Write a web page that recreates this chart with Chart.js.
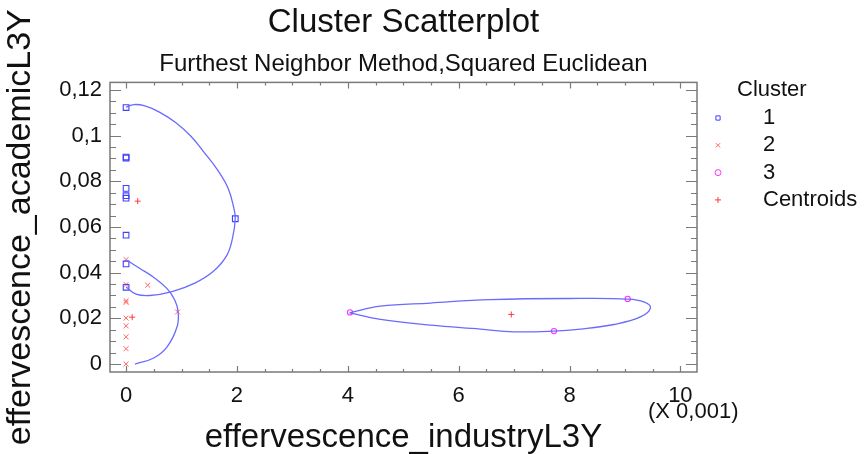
<!DOCTYPE html>
<html>
<head>
<meta charset="utf-8">
<script src="https://cdn.jsdelivr.net/npm/chart.js@4"></script>
<style>
  html, body { margin: 0; padding: 0; background: #fff; }
  #wrap { width: 866px; height: 454px; position: relative; }
</style>
</head>
<body>
<div id="wrap"><canvas id="chart"></canvas></div>
<script>
// 点数据（从图中读取，x 以 0.001 为单位）
const cluster1X = [0, 0, 0, 0, 0, 0, 0, 0, 0, 1.97];
const cluster1Y = [0.1123, 0.0906, 0.0902, 0.0769, 0.0737, 0.0726, 0.0564, 0.0438, 0.0336, 0.0636];
const cluster2X = [0, 0, 0, 0, 0, 0, 0, 0, 0, 0.39, 0.93];
const cluster2Y = [0.0457, 0.0348, 0.0277, 0.0270, 0.0201, 0.0167, 0.0119, 0.0067, 0, 0.0345, 0.0228];
const cluster3X = [4.04, 9.05, 7.72];
const cluster3Y = [0.0226, 0.0285, 0.0144];
const centroidX = [0.21, 0.11, 6.95];
const centroidY = [0.0713, 0.0205, 0.0217];

// 轮廓线（沿图中曲线读取）
const hull1X = [0, 0.14, 0.34, 0.61, 0.90, 1.17, 1.40, 1.64, 1.84, 1.94, 1.97, 1.92, 1.82, 1.58, 1.24, 0.83, 0.43, 0.18, 0];
const hull1Y = [0.1125, 0.1136, 0.1130, 0.1102, 0.1056, 0.0997, 0.0929, 0.0853, 0.0770, 0.0687, 0.0638, 0.0551, 0.0477, 0.0407, 0.0354, 0.0317, 0.0300, 0.0306, 0.0337];
const hull2X = [0.02, 0.25, 0.49, 0.74, 0.88, 0.94, 0.92, 0.74, 0.49, 0.16];
const hull2Y = [0.0454, 0.0418, 0.0381, 0.0330, 0.0279, 0.0228, 0.0163, 0.0075, 0.0025, 0.0];
const hull3X = [4.03, 4.59, 5.49, 6.57, 8.20, 9.04, 9.34, 9.46, 9.28, 8.80, 8.20, 7.71, 6.99, 6.39, 5.49, 4.59, 4.03];
const hull3Y = [0.0224, 0.0253, 0.0267, 0.0282, 0.0287, 0.0284, 0.0272, 0.0246, 0.0206, 0.0173, 0.0153, 0.0144, 0.0141, 0.0153, 0.0170, 0.0195, 0.0224];

// 刻度标签
const xTickLabels = [0, 2, 4, 6, 8, 10];
const yTickLabels = [0, 0.02, 0.04, 0.06, 0.08, 0.1, 0.12];
const legendLabels = ['1', '2', '3', 'Centroids'];

const FONT = "'Liberation Sans', Arial, sans-serif";
const pts = (xs, ys) => xs.map((x, i) => ({ x: x, y: ys[i] }));
const near = (arr, v) => arr.some(a => Math.abs(a - v) < 1e-7);
const fmt = v => String(Number(v.toFixed(3))).replace('.', ',');

const markers = [
    { pointStyle: 'rect', radius: 4, color: '#4040ff' },
    { pointStyle: 'crossRot', radius: 3.5, color: '#ff6464' },
    { pointStyle: 'circle', radius: 2.6, color: '#ff30ff' },
    { pointStyle: 'cross', radius: 3, color: '#ff3a3a' }
];

const lineStyle = {
    type: 'scatter', showLine: true, pointRadius: 0, borderColor: '#6a6aff',
    borderWidth: 1.3, tension: 0.4, fill: false
};

// 边框、内向刻度、图例和单位文字
const decorPlugin = {
    id: 'decor',
    afterDraw(chart) {
        const ctx = chart.ctx;
        const a = chart.chartArea;
        const xs = chart.scales.x, ys = chart.scales.y;
        ctx.save();
        ctx.strokeStyle = '#7a7a7a';
        ctx.lineWidth = 1.5;
        ctx.strokeRect(a.left, a.top, a.right - a.left, a.bottom - a.top);
        ctx.lineWidth = 1.2;
        ctx.beginPath();
        xs.ticks.forEach(t => {
            const px = Math.round(xs.getPixelForValue(t.value)) + 0.5;
            const len = near(xTickLabels, t.value) ? 6 : 3;
            ctx.moveTo(px, a.bottom); ctx.lineTo(px, a.bottom - len);
            ctx.moveTo(px, a.top); ctx.lineTo(px, a.top + len);
        });
        ys.ticks.forEach(t => {
            const py = Math.round(ys.getPixelForValue(t.value)) + 0.5;
            let len = 6;
            if (near(yTickLabels, t.value)) len = 11;
            ctx.moveTo(a.left, py); ctx.lineTo(a.left + len, py);
            ctx.moveTo(a.right, py); ctx.lineTo(a.right - len, py);
        });
        ctx.stroke();

        // 单位
        ctx.fillStyle = '#111';
        ctx.font = '22px ' + FONT;
        ctx.textAlign = 'left';
        ctx.textBaseline = 'middle';
        ctx.fillText('(X 0,001)', 648, 412);

        // 图例
        ctx.fillText('Cluster', 737, 90);
        legendLabels.forEach((lab, i) => {
            const y = 118 + i * 27.3;
            const m = markers[i];
            ctx.strokeStyle = m.color;
            ctx.fillStyle = 'rgba(0,0,0,0)';
            ctx.lineWidth = 1;
            Chart.helpers.drawPoint(ctx, { pointStyle: m.pointStyle, radius: 3, borderWidth: 1, rotation: 0 }, 718, y);
            ctx.fillStyle = '#111';
            ctx.fillText(lab, 763, y);
        });
        ctx.restore();
    }
};

const ctx = document.getElementById('chart').getContext('2d');
new Chart(ctx, {
    type: 'scatter',
    data: {
        datasets: [
            Object.assign({ data: pts(hull1X, hull1Y) }, lineStyle),
            Object.assign({ data: pts(hull2X, hull2Y) }, lineStyle),
            Object.assign({ data: pts(hull3X, hull3Y) }, lineStyle),
            {
                label: '1', data: pts(cluster1X, cluster1Y), pointStyle: 'rect', pointRadius: 4,
                borderColor: markers[0].color, backgroundColor: 'transparent', pointBorderWidth: 1.1
            },
            {
                label: '2', data: pts(cluster2X, cluster2Y), pointStyle: 'crossRot', pointRadius: 3.5,
                borderColor: markers[1].color, backgroundColor: 'transparent', pointBorderWidth: 1
            },
            {
                label: '3', data: pts(cluster3X, cluster3Y), pointStyle: 'circle', pointRadius: 2.6,
                borderColor: markers[2].color, backgroundColor: 'transparent', pointBorderWidth: 1.1
            },
            {
                label: 'Centroids', data: pts(centroidX, centroidY), pointStyle: 'cross', pointRadius: 3,
                borderColor: markers[3].color, backgroundColor: 'transparent', pointBorderWidth: 1
            }
        ]
    },
    options: {
        responsive: true,
        maintainAspectRatio: false,
        animation: false,
        layout: { padding: { left: 0, right: 169, top: 0, bottom: 0 } },
        plugins: {
            legend: { display: false },
            tooltip: { enabled: false },
            title: {
                display: true, text: 'Cluster Scatterplot', fullSize: false, color: '#111',
                font: { family: FONT, size: 33, weight: 'normal' },
                padding: { top: 3, bottom: 0 }
            },
            subtitle: {
                display: true, text: 'Furthest Neighbor Method,Squared Euclidean', fullSize: false, color: '#111',
                font: { family: FONT, size: 24, weight: 'normal' },
                padding: { top: 7, bottom: 4 }
            }
        },
        scales: {
            x: {
                type: 'linear', min: -0.29, max: 10.3,
                grid: { display: false, drawTicks: false },
                border: { display: false },
                afterBuildTicks(scale) {
                    const t = [];
                    for (let i = 0; i <= 20; i++) t.push({ value: i * 0.5 });
                    scale.ticks = t;
                },
                afterFit(scale) { scale.height = 82; },
                ticks: {
                    autoSkip: false, maxRotation: 0, padding: 11, color: '#111',
                    font: { family: FONT, size: 22 },
                    callback: v => near(xTickLabels, v) ? String(v) : ''
                },
                title: {
                    display: true, text: 'effervescence_industryL3Y', color: '#111',
                    font: { family: FONT, size: 33, lineHeight: 1 },
                    padding: { top: 0, bottom: 0 }
                }
            },
            y: {
                type: 'linear', min: -0.0035, max: 0.1233,
                grid: { display: false, drawTicks: false },
                border: { display: false },
                afterBuildTicks(scale) {
                    const t = [];
                    for (let i = 0; i <= 24; i++) t.push({ value: Number((i * 0.005).toFixed(3)) });
                    scale.ticks = t;
                },
                afterFit(scale) { scale.width = 110; },
                ticks: {
                    autoSkip: false, padding: 8, color: '#111',
                    font: { family: FONT, size: 22 },
                    callback: v => near(yTickLabels, v) ? fmt(v) : ''
                },
                title: {
                    display: true, text: 'effervescence_academicL3Y', color: '#111',
                    font: { family: FONT, size: 34, lineHeight: 1 },
                    padding: { top: 4, bottom: 0 }
                }
            }
        }
    },
    plugins: [decorPlugin]
});
</script>
</body>
</html>
